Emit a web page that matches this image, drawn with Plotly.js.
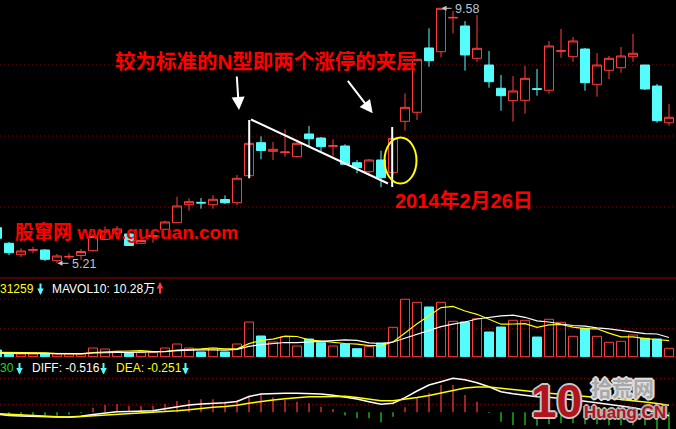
<!DOCTYPE html>
<html>
<head>
<meta charset="utf-8">
<script src="https://cdn.plot.ly/plotly-3.0.1.min.js"></script>
<style>
html, body { margin: 0; padding: 0; background: #000; overflow: hidden; }
#chart { width: 676px; height: 429px; }
</style>
</head>
<body>
<div id="chart"></div>
<script>
// Daily bars, oldest first (the first one is only half inside the window)
const openP  = [5.820, 5.553, 5.357, 5.433, 5.438, 5.255, 5.318, 5.344, 5.426, 5.621,
                5.729, 5.712, 5.553, 5.673, 5.793, 5.906, 6.214, 6.254, 6.214, 6.303,
                6.248, 6.711, 7.277, 7.129, 7.107, 7.037, 7.426, 7.357, 7.215, 7.220,
                6.934, 6.780, 6.980, 6.769, 7.643, 7.798, 8.900, 8.836, 9.414, 9.277,
                8.723, 8.608, 8.209, 7.997, 8.003, 8.202, 8.175, 8.843, 8.750, 8.882,
                8.277, 8.517, 8.562, 8.750, 8.608, 8.248, 7.619];
const highP  = [5.849, 5.575, 5.467, 5.494, 5.455, 5.369, 5.381, 5.455, 5.712, 5.841,
                5.849, 5.729, 5.643, 5.752, 5.940, 6.351, 6.324, 6.329, 6.381, 6.375,
                6.723, 7.300, 7.386, 7.289, 7.506, 7.289, 7.563, 7.374, 7.335, 7.249,
                6.980, 6.997, 7.140, 7.374, 8.123, 8.706, 9.237, 9.580, 9.534, 9.362,
                9.465, 8.848, 8.437, 8.420, 8.591, 8.540, 9.020, 9.225, 9.088, 8.900,
                8.814, 8.763, 8.917, 9.140, 8.608, 8.283, 7.940];
const lowP   = [5.609, 5.352, 5.318, 5.381, 5.249, 5.210, 5.278, 5.267, 5.412, 5.609,
                5.695, 5.507, 5.541, 5.563, 5.781, 5.901, 6.111, 6.146, 6.146, 6.226,
                6.209, 6.689, 6.992, 6.980, 7.037, 7.020, 7.220, 7.123, 7.049, 6.895,
                6.752, 6.711, 6.512, 6.723, 7.482, 7.666, 8.579, 8.740, 9.151, 8.511,
                8.665, 8.219, 7.825, 7.637, 7.774, 8.082, 8.116, 8.733, 8.665, 8.168,
                8.065, 8.368, 8.476, 8.665, 8.180, 7.619, 7.568];
const closeP = [5.638, 5.391, 5.421, 5.443, 5.278, 5.335, 5.328, 5.412, 5.669, 5.763,
                5.798, 5.515, 5.601, 5.680, 5.918, 6.192, 6.266, 6.243, 6.307, 6.248,
                6.667, 7.266, 7.143, 7.163, 7.117, 7.266, 7.345, 7.208, 7.225, 6.907,
                6.848, 6.980, 6.677, 7.352, 7.883, 8.706, 8.682, 9.580, 9.424, 8.780,
                8.894, 8.322, 8.082, 8.163, 8.380, 8.192, 8.934, 8.853, 9.020, 8.305,
                8.608, 8.723, 8.763, 8.809, 8.197, 7.654, 7.712];

// Volume (万股) and its 5 / 10 day averages
const volume  = [3.58, 1.82, 1.44, 1.44, 1.82, 1.44, 1.44, 1.44, 4.65, 4.12,
                 2.89, 2.14, 2.14, 2.14, 4.65, 6.79, 4.65, 2.51, 4.65, 2.51,
                 6.79, 18.56, 11.07, 7.86, 10.70, 5.72, 9.47, 7.49, 5.72, 6.79,
                 4.28, 5.35, 7.33, 15.73, 30.71, 29.10, 26.59, 29.10, 18.94, 18.56,
                 20.33, 13.21, 15.89, 19.47, 19.47, 10.54, 20.01, 18.40, 10.91, 15.19,
                 10.91, 7.70, 8.24, 11.61, 9.84, 9.47, 4.49];
const mavol5  = [2.35, 2.35, 2.25, 2.19, 2.03, 1.61, 1.50, 1.50, 2.14, 2.62,
                 2.89, 3.05, 3.21, 2.68, 2.78, 3.58, 4.07, 4.17, 4.65, 4.23,
                 4.23, 7.01, 8.72, 9.36, 11.02, 10.81, 8.99, 8.24, 7.81, 7.06,
                 6.74, 5.94, 5.89, 7.92, 12.68, 17.66, 21.88, 26.27, 26.91, 24.45,
                 22.68, 20.01, 17.39, 17.49, 17.66, 15.73, 17.07, 17.23, 15.78, 15.03,
                 14.93, 12.63, 10.65, 10.65, 9.63, 9.20, 8.61];
const mavol10 = [1.82, 1.77, 1.71, 1.66, 1.66, 1.61, 1.61, 1.66, 1.98, 2.30,
                 2.25, 2.30, 2.35, 2.41, 2.73, 3.26, 3.58, 3.69, 3.69, 3.53,
                 3.91, 5.56, 6.42, 7.01, 7.60, 7.49, 7.97, 8.51, 8.61, 9.04,
                 8.77, 7.44, 7.06, 7.86, 9.84, 12.20, 13.91, 16.05, 17.39, 18.56,
                 20.17, 20.97, 21.83, 22.20, 21.08, 19.21, 18.56, 17.49, 16.69, 16.37,
                 15.41, 14.87, 14.07, 13.32, 12.36, 12.14, 10.28];

// MACD(12,26,9)
const diff = [-0.034, -0.064, -0.074, -0.084, -0.088, -0.094, -0.094, -0.078, -0.044, -0.014,
               0.010,  0.016,  0.022,  0.030,  0.072,  0.116,  0.146,  0.166,  0.176,  0.192,
               0.216,  0.316,  0.366,  0.380,  0.380,  0.380,  0.376,  0.366,  0.340,  0.310,
               0.266,  0.212,  0.160,  0.180,  0.292,  0.426,  0.546,  0.612,  0.680,  0.652,
               0.592,  0.512,  0.412,  0.372,  0.340,  0.312,  0.300,  0.280,  0.252,  0.220,
               0.192,  0.160,  0.126,  0.092,  0.046,  0.000, -0.068];
const dea  = [-0.024, -0.040, -0.054, -0.068, -0.080, -0.090, -0.098, -0.084, -0.070, -0.054,
              -0.040, -0.030, -0.022, -0.010,  0.010,  0.030,  0.050,  0.080,  0.100,  0.116,
               0.140,  0.180,  0.216,  0.246,  0.272,  0.296,  0.310,  0.312,  0.312,  0.322,
               0.296,  0.266,  0.232,  0.232,  0.260,  0.296,  0.336,  0.386,  0.446,  0.486,
               0.506,  0.506,  0.480,  0.452,  0.426,  0.400,  0.380,  0.360,  0.334,  0.310,
               0.296,  0.280,  0.260,  0.230,  0.206,  0.176,  0.142];
const macd = [-0.020, -0.070, -0.066, -0.060, -0.066, -0.070, -0.046, -0.020,  0.092,  0.146,
               0.166,  0.126,  0.126,  0.126,  0.166,  0.226,  0.246,  0.260,  0.260,  0.212,
               0.246,  0.332,  0.360,  0.300,  0.246,  0.212,  0.180,  0.112,  0.066, -0.066,
              -0.120, -0.120, -0.200, -0.088,  0.100,  0.292,  0.392,  0.546,  0.546,  0.346,
               0.212, -0.014, -0.188, -0.254, -0.254, -0.268, -0.240, -0.220, -0.220, -0.240,
              -0.240, -0.260, -0.260, -0.260, -0.260, -0.334, -0.340];

const UP = '#ff3c3c', DOWN = '#54fcfc', GRID = '#8c0000';
const W = 676, H = 429;
const fx = x => x / W;          // pixel column -> paper x
const fy = y => 1 - y / H;      // pixel row    -> paper y

const day = openP.map((_, i) => i - 1);
const isUp = openP.map((o, i) => closeP[i] >= o);

const traces = [
  {
    type: 'candlestick', x: day, open: openP, high: highP, low: lowP, close: closeP,
    xaxis: 'x', yaxis: 'y', whiskerwidth: 0, hoverinfo: 'skip',
    increasing: { line: { color: UP, width: 1 }, fillcolor: '#000' },
    decreasing: { line: { color: DOWN, width: 1 }, fillcolor: DOWN }
  },
  {
    type: 'bar', x: day, y: volume, xaxis: 'x', yaxis: 'y2', width: 0.75, hoverinfo: 'skip',
    marker: {
      color: isUp.map(u => u ? 'rgba(0,0,0,0)' : DOWN),
      line: { color: isUp.map(u => u ? UP : DOWN), width: 1 }
    }
  },
  { type: 'scatter', mode: 'lines', x: day, y: mavol5, xaxis: 'x', yaxis: 'y2',
    line: { color: '#ffff00', width: 1.2 }, hoverinfo: 'skip' },
  { type: 'scatter', mode: 'lines', x: day, y: mavol10, xaxis: 'x', yaxis: 'y2',
    line: { color: '#ffffff', width: 1.2 }, hoverinfo: 'skip' },
  {
    type: 'bar', x: day, y: macd, xaxis: 'x', yaxis: 'y3', width: 0.1, hoverinfo: 'skip',
    marker: { color: macd.map(v => v >= 0 ? UP : '#22d822'), line: { width: 0 } }
  },
  { type: 'scatter', mode: 'lines', x: day, y: diff, xaxis: 'x', yaxis: 'y3',
    line: { color: '#ffffff', width: 1.5 }, hoverinfo: 'skip' },
  { type: 'scatter', mode: 'lines', x: day, y: dea, xaxis: 'x', yaxis: 'y3',
    line: { color: '#ffff00', width: 1.5 }, hoverinfo: 'skip' }
];

const hline = (y, dash, color) => ({
  type: 'line', xref: 'paper', yref: 'paper', x0: 0, x1: 1, y0: fy(y), y1: fy(y),
  line: { color: color || GRID, width: 1, dash: dash || 'solid' }, layer: 'below'
});
const seg = (x0, y0, x1, y1, color, width) => ({
  type: 'line', xref: 'paper', yref: 'paper', x0: fx(x0), y0: fy(y0), x1: fx(x1), y1: fy(y1),
  line: { color: color, width: width }, layer: 'above'
});

const shapes = [
  hline(65, '1px,3px'), hline(136, '1px,3px'), hline(207, '1px,3px'),
  hline(299.3, '1px,3px'), hline(328.3, '1px,3px'),
  hline(378.3, '1px,3px'), hline(404.3, '1px,3px'),
  hline(278, 'solid', '#9a0000'), hline(357, 'solid', '#9a0000'),
  // N-shape sketch over the consolidation
  seg(249.2, 120, 249.2, 178.3, '#ffffff', 2),
  seg(251, 119.5, 388, 183.5, '#ffffff', 2),
  seg(392.2, 127, 392.2, 187, '#ffffff', 2),
  { type: 'circle', xref: 'paper', yref: 'paper', x0: fx(384.5), x1: fx(416.5),
    y0: fy(183.5), y1: fy(137.5), line: { color: '#ffff00', width: 2 }, layer: 'above' }
];

const CJK = 'Liberation Sans, Noto Sans CJK SC, sans-serif';
const txt = (text, x, y, size, color, extra) => Object.assign({
  text: text, xref: 'paper', yref: 'paper', x: fx(x), y: fy(y),
  xanchor: 'left', yanchor: 'middle', showarrow: false, borderpad: 0,
  font: { family: CJK, size: size, color: color }
}, extra || {});
const arrow = (hx, hy, tx, ty, color, width, size) => ({
  text: '', xref: 'paper', yref: 'paper', x: fx(hx), y: fy(hy),
  ax: tx - hx, ay: ty - hy, showarrow: true, arrowhead: 2,
  arrowcolor: color, arrowwidth: width, arrowsize: size
});
// little trend arrows used in the indicator headers
const down = (x, yMid, color) => arrow(x, yMid + 6.5, x, yMid - 6.5, color, 2, 0.65);
const up = (x, yMid, color) => arrow(x, yMid - 6.5, x, yMid + 6.5, color, 2, 0.65);

const outline = c => ['1px 1px 0 ' + c, '-1px -1px 0 ' + c, '1px -1px 0 ' + c, '-1px 1px 0 ' + c,
                      '2px 0 0 ' + c, '-2px 0 0 ' + c, '0 2px 0 ' + c, '0 -2px 0 ' + c].join(', ');

const annotations = [
  txt('<b>较为标准的N型即两个涨停的夹层</b>', 114, 62, 20.5, '#ff0000'),
  txt('<b>2014年2月26日</b>', 394, 201, 20, '#ff0000'),
  txt('<b>股窜网 www.gucuan.com</b>', 14, 232, 19, '#ff0000'),
  arrow(239, 110, 236.7, 75, '#ffffff', 2, 1.3),
  arrow(372.7, 113.3, 346.7, 79.3, '#ffffff', 2, 1.3),
  // extreme price markers
  txt('9.58', 454, 8.5, 12.5, '#b8c4d2'),
  arrow(441.5, 8.3, 453, 8.3, '#c8c8c8', 1, 1),
  txt('5.21', 71, 263.5, 12.5, '#b8c4d2'),
  arrow(57.5, 263.3, 70, 263.3, '#c8c8c8', 1, 1),
  // volume header
  txt('31259', -1, 288.5, 12, '#ffff00'),
  down(40.5, 288.5, DOWN),
  txt('MAVOL10: 10.28万', 51, 288.5, 12, '#ffffff'),
  up(160, 288.5, UP),
  // MACD header
  txt('30', -1, 368, 12, '#22d822'),
  down(19.5, 368, DOWN),
  txt('DIFF: -0.516', 31, 368, 12, '#ffffff'),
  down(103.5, 368, DOWN),
  txt('DEA: -0.251', 115, 368, 12, '#ffff00'),
  down(185.5, 368, DOWN),
  // site badge
  txt('<b>10</b>', 530, 401, 46, '#b2141c', { font: { family: CJK, size: 46, color: '#b2141c', shadow: outline('#c8c8c8') } }),
  txt('<b>拾荒网</b>', 590, 388, 21, '#a8a8a8', { font: { family: CJK, size: 21, color: '#a8a8a8', shadow: outline('#e0e0e0') } }),
  txt('<b>Huang.CN</b>', 583, 412, 17, '#b2141c', { font: { family: CJK, size: 17, color: '#b2141c', shadow: outline('#b4b4b4') } })
];

const layout = {
  width: W, height: H,
  margin: { l: 0, r: 0, t: 0, b: 0, pad: 0 },
  paper_bgcolor: '#000', plot_bgcolor: 'rgba(0,0,0,0)',
  showlegend: false, barmode: 'overlay', boxgap: 0.25, boxgroupgap: 0,
  xaxis: { range: [-0.75, 55.5833], visible: false, fixedrange: true,
           rangeslider: { visible: false } },
  yaxis:  { domain: [fy(278), 1], range: [4.9578, 9.7222], visible: false, fixedrange: true },
  yaxis2: { domain: [fy(357), fy(278)], range: [-0.16, 42.10], visible: false, fixedrange: true },
  yaxis3: { domain: [0, fy(357)], range: [-0.334, 1.106], visible: false, fixedrange: true },
  shapes: shapes,
  annotations: annotations
};

Plotly.newPlot('chart', traces, layout, { staticPlot: true, displayModeBar: false });
</script>
</body>
</html>
